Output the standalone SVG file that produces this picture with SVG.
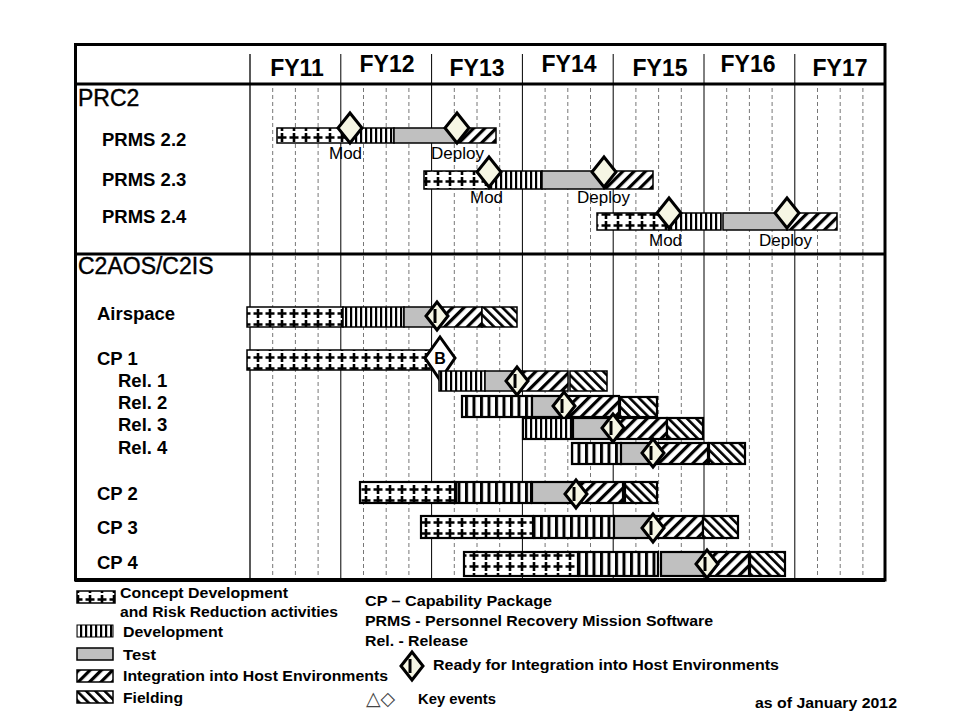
<svg xmlns="http://www.w3.org/2000/svg" width="960" height="720" viewBox="0 0 960 720">
<style>
.fy{font-family:"Liberation Sans",Arial,sans-serif;font-size:23px;font-weight:bold;text-anchor:middle}
.sec{font-family:"Liberation Sans",Arial,sans-serif;font-size:23px;stroke:#000;stroke-width:0.4}
.lbl{font-family:"Liberation Sans",Arial,sans-serif;font-size:18.5px;font-weight:bold}
.ev{font-family:"Liberation Sans",Arial,sans-serif;font-size:17px}
.lg{font-family:"Liberation Sans",Arial,sans-serif;font-size:15.5px;font-weight:bold}
.grid{stroke:#777;stroke-width:1;stroke-dasharray:4 3}
.yr{stroke:#000;stroke-width:1}
.bar{stroke:#000;stroke-width:1.5}
.bar2{stroke:#000;stroke-width:2.2}
</style>
<defs>
<pattern id="pCD" width="12" height="11" patternUnits="userSpaceOnUse">
<rect width="12" height="11" fill="#fff"/>
<path d="M6 1v9M1.5 5.5h9" stroke="#000" stroke-width="2.6"/>
</pattern>
<pattern id="pDev" width="5" height="10" patternUnits="userSpaceOnUse">
<rect width="5" height="10" fill="#fff"/>
<rect width="2.2" height="10" fill="#000"/>
</pattern>
<pattern id="pDev2" width="7.5" height="10" patternUnits="userSpaceOnUse">
<rect width="7.5" height="10" fill="#fff"/>
<rect width="3" height="10" fill="#000"/>
</pattern>
<pattern id="pInt" width="8" height="8" patternUnits="userSpaceOnUse" patternTransform="rotate(45)">
<rect width="8" height="8" fill="#fff"/>
<rect width="3.2" height="8" fill="#000"/>
</pattern>
<pattern id="pFld" width="6.5" height="8" patternUnits="userSpaceOnUse" patternTransform="rotate(-45)">
<rect width="6.5" height="8" fill="#fff"/>
<rect width="2.6" height="8" fill="#000"/>
</pattern>
<g id="dKey"><polygon points="0,-15 12,0 0,15 -12,0" fill="#f6f6e4" stroke="#000" stroke-width="3"/></g>
<g id="dRdy"><polygon points="0,-14 11,0 0,14 -11,0" fill="#f6f6e4" stroke="#000" stroke-width="3"/><rect x="-3.5" y="-7" width="3" height="14" fill="#000"/></g>
</defs>
<rect width="960" height="720" fill="#fff"/>

<g id="grid">
<g class="grid">
<path d="M272.7 88V580M295.4 88V580M318.1 88V580M363.5 88V580M386.2 88V580M408.9 88V580M454.3 88V580M477 88V580M499.7 88V580M545.1 88V580M567.8 88V580M590.5 88V580M635.9 88V580M658.6 88V580M681.3 88V580M726.7 88V580M749.4 88V580M772.1 88V580M817.5 88V580M840.2 88V580M862.9 88V580"/>
</g>
<path class="yr" d="M340.8 54V580M431.6 54V580M522.4 54V580M613.2 54V580M704 54V580M794.8 54V580"/>
<path d="M250 54V580" stroke="#000" stroke-width="1.3"/>
<rect x="75.5" y="44.5" width="809.5" height="535.5" fill="none" stroke="#000" stroke-width="3"/>
<path d="M75 84H885M75 254H885" stroke="#000" stroke-width="3"/>
<path d="M75 580H885" stroke="#000" stroke-width="4"/>
</g>

<g id="header">
<text class="fy" x="297" y="76">FY11</text>
<text class="fy" x="387" y="72">FY12</text>
<text class="fy" x="477" y="76">FY13</text>
<text class="fy" x="569" y="72">FY14</text>
<text class="fy" x="660" y="76">FY15</text>
<text class="fy" x="748" y="72">FY16</text>
<text class="fy" x="840" y="76">FY17</text>
</g>

<g id="labels">
<text class="sec" x="78" y="106">PRC2</text>
<text class="lbl" x="102" y="146" font-size="22.5">PRMS 2.2</text>
<text class="lbl" x="102" y="186" font-size="21">PRMS 2.3</text>
<text class="lbl" x="102" y="223" font-size="21">PRMS 2.4</text>
<text class="sec" x="78" y="274">C2AOS/C2IS</text>
<text class="lbl" x="97" y="320">Airspace</text>
<text class="lbl" x="97" y="365">CP 1</text>
<text class="lbl" x="118" y="387">Rel. 1</text>
<text class="lbl" x="118" y="409">Rel. 2</text>
<text class="lbl" x="118" y="431">Rel. 3</text>
<text class="lbl" x="118" y="454">Rel. 4</text>
<text class="lbl" x="97" y="500">CP 2</text>
<text class="lbl" x="97" y="534">CP 3</text>
<text class="lbl" x="97" y="569">CP 4</text>
</g>

<g id="prms22">
<rect class="bar" x="277" y="128" width="73" height="15" fill="url(#pCD)"/>
<rect class="bar" x="350" y="128" width="44" height="15" fill="url(#pDev)"/>
<rect class="bar" x="394" y="128" width="63" height="15" fill="#c0c0c0"/>
<rect class="bar" x="457" y="128" width="39" height="15" fill="url(#pInt)"/>
<use href="#dKey" x="350" y="128"/>
<use href="#dKey" x="457" y="128"/>
<text class="ev" x="329" y="159">Mod</text>
<text class="ev" x="431" y="159">Deploy</text>
</g>
<g id="prms23">
<rect class="bar" x="424" y="171" width="65" height="18" fill="url(#pCD)"/>
<rect class="bar" x="489" y="171" width="53" height="18" fill="url(#pDev)"/>
<rect class="bar" x="542" y="171" width="62" height="18" fill="#c0c0c0"/>
<rect class="bar" x="604" y="171" width="49" height="18" fill="url(#pInt)"/>
<use href="#dKey" x="489" y="172"/>
<use href="#dKey" x="604" y="172"/>
<text class="ev" x="470" y="203">Mod</text>
<text class="ev" x="577" y="203">Deploy</text>
</g>
<g id="prms24">
<rect class="bar" x="597" y="213" width="72" height="17" fill="url(#pCD)"/>
<rect class="bar" x="669" y="213" width="52" height="17" fill="url(#pDev)"/>
<rect class="bar" x="723" y="213" width="64" height="17" fill="#c0c0c0"/>
<rect class="bar" x="787" y="213" width="50" height="17" fill="url(#pInt)"/>
<use href="#dKey" x="669" y="213"/>
<use href="#dKey" x="787" y="213"/>
<text class="ev" x="649" y="246">Mod</text>
<text class="ev" x="759" y="246">Deploy</text>
</g>

<g id="airspace">
<rect class="bar" x="247" y="307" width="96" height="20" fill="url(#pCD)"/>
<rect class="bar" x="343" y="307" width="61" height="20" fill="url(#pDev)"/>
<rect class="bar" x="404" y="307" width="33" height="20" fill="#c0c0c0"/>
<rect class="bar" x="437" y="307" width="45" height="20" fill="url(#pInt)"/>
<rect class="bar" x="482" y="307" width="35" height="20" fill="url(#pFld)"/>
<use href="#dRdy" x="437" y="316"/>
</g>
<g id="cp1">
<rect class="bar" x="247" y="350" width="185" height="20" fill="url(#pCD)"/>
<polygon points="440,337 455,358 440,380 425,358" fill="#fff" stroke="#000" stroke-width="3"/>
<text x="440" y="364" text-anchor="middle" font-family="Liberation Sans,Arial,sans-serif" font-size="16" font-weight="bold">B</text>
</g>
<g id="rel1">
<rect class="bar" x="439" y="371" width="46" height="20" fill="url(#pDev)"/>
<rect class="bar" x="485" y="371" width="32" height="20" fill="#c0c0c0"/>
<rect class="bar" x="520" y="371" width="48" height="20" fill="url(#pInt)"/>
<rect class="bar" x="570" y="371" width="37" height="20" fill="url(#pFld)"/>
<use href="#dRdy" x="517" y="381"/>
</g>
<g id="rel2">
<rect class="bar2" x="462" y="396" width="70" height="21" fill="url(#pDev2)"/>
<rect class="bar2" x="532" y="396" width="32" height="21" fill="#c0c0c0"/>
<rect class="bar2" x="564" y="396" width="55" height="21" fill="url(#pInt)"/>
<rect class="bar2" x="620" y="397" width="37" height="20" fill="url(#pFld)"/>
<use href="#dRdy" x="564" y="406"/>
</g>
<g id="rel3">
<rect class="bar2" x="523" y="418" width="48" height="21" fill="url(#pDev)"/>
<rect class="bar2" x="573" y="418" width="40" height="21" fill="#c0c0c0"/>
<rect class="bar2" x="613" y="418" width="54" height="21" fill="url(#pInt)"/>
<rect class="bar2" x="667" y="418" width="36" height="21" fill="url(#pFld)"/>
<use href="#dRdy" x="613" y="428"/>
</g>
<g id="rel4">
<rect class="bar2" x="572" y="443" width="49" height="21" fill="url(#pDev2)"/>
<rect class="bar2" x="621" y="443" width="32" height="21" fill="#c0c0c0"/>
<rect class="bar2" x="653" y="443" width="55" height="21" fill="url(#pInt)"/>
<rect class="bar2" x="709" y="443" width="36" height="21" fill="url(#pFld)"/>
<use href="#dRdy" x="653" y="453"/>
</g>
<g id="cp2">
<rect class="bar2" x="360" y="482" width="95" height="21" fill="url(#pCD)"/>
<rect class="bar2" x="456" y="482" width="75" height="21" fill="url(#pDev2)"/>
<rect class="bar2" x="532" y="482" width="44" height="21" fill="#c0c0c0"/>
<rect class="bar2" x="576" y="482" width="47" height="21" fill="url(#pInt)"/>
<rect class="bar2" x="625" y="482" width="32" height="21" fill="url(#pFld)"/>
<use href="#dRdy" x="576" y="494"/>
</g>
<g id="cp3">
<rect class="bar2" x="421" y="516" width="112" height="22" fill="url(#pCD)"/>
<rect class="bar2" x="534" y="516" width="80" height="22" fill="url(#pDev2)"/>
<rect class="bar2" x="614" y="516" width="39" height="22" fill="#c0c0c0"/>
<rect class="bar2" x="653" y="516" width="50" height="22" fill="url(#pInt)"/>
<rect class="bar2" x="703" y="516" width="35" height="22" fill="url(#pFld)"/>
<use href="#dRdy" x="653" y="528"/>
</g>
<g id="cp4">
<rect class="bar2" x="464" y="552" width="114" height="24" fill="url(#pCD)"/>
<rect class="bar2" x="579" y="552" width="79" height="24" fill="url(#pDev2)"/>
<rect class="bar2" x="661" y="552" width="46" height="24" fill="#c0c0c0"/>
<rect class="bar2" x="707" y="552" width="42" height="24" fill="url(#pInt)"/>
<rect class="bar2" x="750" y="552" width="35" height="24" fill="url(#pFld)"/>
<use href="#dRdy" x="707" y="564"/>
</g>

<g id="legend">
<rect class="bar" x="77" y="591" width="38" height="12" fill="url(#pCD)"/>
<text class="lg" x="120" y="598" textLength="168" lengthAdjust="spacingAndGlyphs">Concept Development</text>
<text class="lg" x="120" y="617" textLength="218" lengthAdjust="spacingAndGlyphs">and Risk Reduction activities</text>
<rect x="77" y="625" width="36" height="12" fill="url(#pDev)" stroke="#000"/>
<text class="lg" x="123" y="637" textLength="100" lengthAdjust="spacingAndGlyphs">Development</text>
<rect class="bar" x="77" y="648" width="36" height="12" fill="#c0c0c0"/>
<text class="lg" x="123" y="660" textLength="33" lengthAdjust="spacingAndGlyphs">Test</text>
<rect class="bar" x="77" y="670" width="36" height="12" fill="url(#pInt)"/>
<text class="lg" x="123" y="681" textLength="265" lengthAdjust="spacingAndGlyphs">Integration into Host Environments</text>
<rect class="bar" x="77" y="691" width="36" height="12" fill="url(#pFld)"/>
<text class="lg" x="123" y="703" textLength="60" lengthAdjust="spacingAndGlyphs">Fielding</text>
<text class="lg" x="365" y="606" textLength="187" lengthAdjust="spacingAndGlyphs">CP – Capability Package</text>
<text class="lg" x="365" y="626" textLength="348" lengthAdjust="spacingAndGlyphs">PRMS - Personnel Recovery Mission Software</text>
<text class="lg" x="365" y="646" textLength="103" lengthAdjust="spacingAndGlyphs">Rel. - Release</text>
<use href="#dRdy" x="412" y="666"/>
<text class="lg" x="433" y="670" textLength="346" lengthAdjust="spacingAndGlyphs">Ready for Integration into Host Environments</text>
<text x="366" y="705" font-family="DejaVu Sans,sans-serif" font-size="19" fill="#444">△◇</text>
<text class="lg" x="418" y="704" textLength="78" lengthAdjust="spacingAndGlyphs">Key events</text>
<text class="lg" x="755" y="708" font-weight="normal" textLength="142" lengthAdjust="spacingAndGlyphs">as of January 2012</text>
</g>
</svg>
